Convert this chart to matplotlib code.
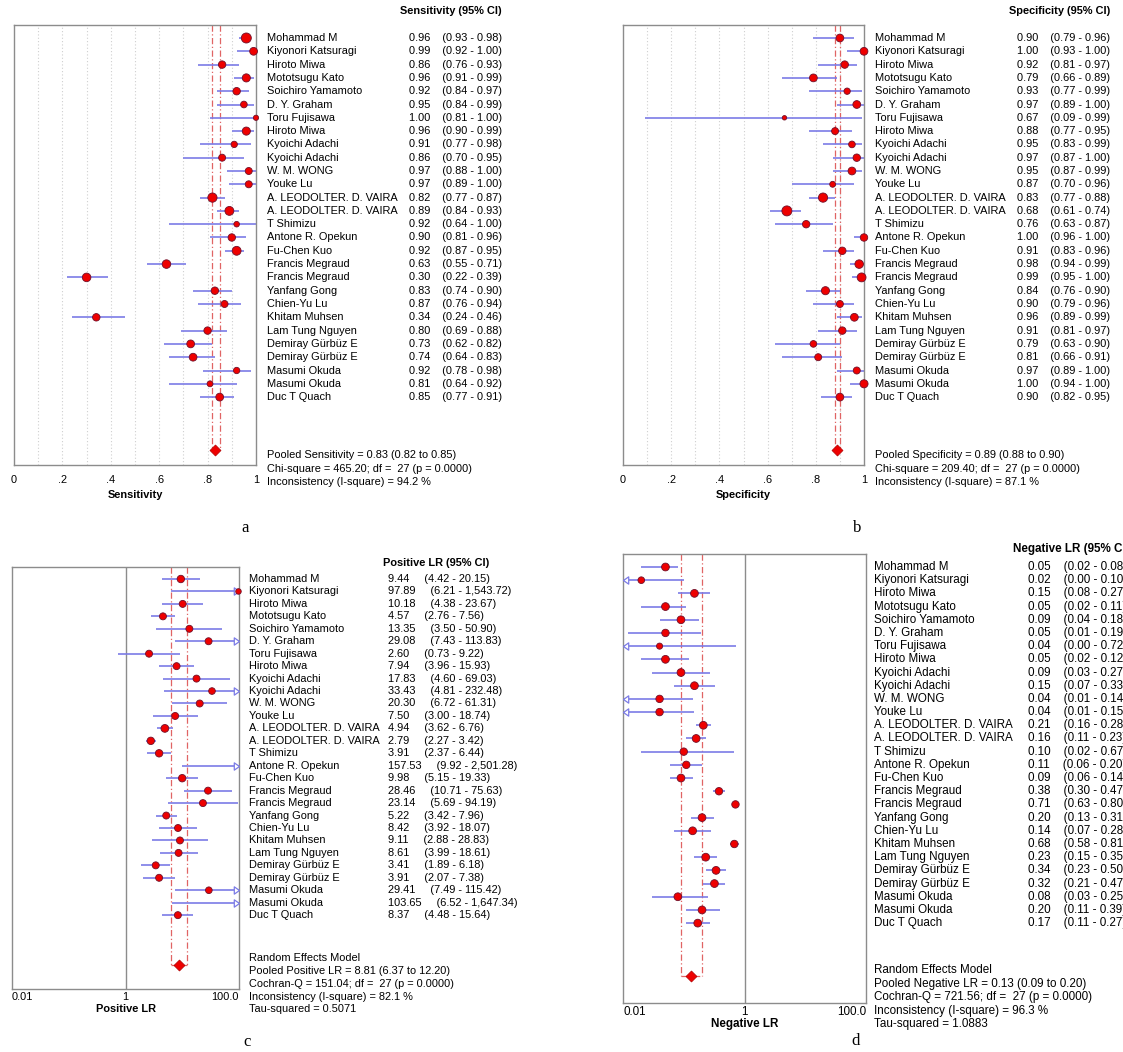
import numpy as np
import matplotlib
matplotlib.use("Agg")
import matplotlib.pyplot as plt
from matplotlib import transforms
from matplotlib.path import Path
from matplotlib.ticker import NullLocator

plt.rcParams['font.family'] = ['Liberation Sans', 'DejaVu Sans']

W, H = 1123, 1052
CI_COLOR = '#7c7ce6'
DOT_COLOR = '#ee0000'
DOT_EDGE = '#70102a'
POOL_COLOR = '#e06464'
FRAME = '#8c8c8c'

# ---- data ----
studies = ["Mohammad M", "Kiyonori Katsuragi", "Hiroto Miwa", "Mototsugu Kato",
           "Soichiro Yamamoto", "D. Y. Graham", "Toru Fujisawa", "Hiroto Miwa",
           "Kyoichi Adachi", "Kyoichi Adachi", "W. M. WONG", "Youke Lu",
           "A. LEODOLTER. D. VAIRA", "A. LEODOLTER. D. VAIRA", "T Shimizu",
           "Antone R. Opekun", "Fu-Chen Kuo", "Francis Megraud", "Francis Megraud",
           "Yanfang Gong", "Chien-Yu Lu", "Khitam Muhsen", "Lam Tung Nguyen",
           "Demiray Gürbüz E", "Demiray Gürbüz E", "Masumi Okuda", "Masumi Okuda",
           "Duc T Quach"]

sens = [0.96, 0.99, 0.86, 0.96, 0.92, 0.95, 1.00, 0.96, 0.91, 0.86, 0.97, 0.97, 0.82, 0.89,
        0.92, 0.90, 0.92, 0.63, 0.30, 0.83, 0.87, 0.34, 0.80, 0.73, 0.74, 0.92, 0.81, 0.85]
sens_lo = [0.93, 0.92, 0.76, 0.91, 0.84, 0.84, 0.81, 0.90, 0.77, 0.70, 0.88, 0.89, 0.77, 0.84,
           0.64, 0.81, 0.87, 0.55, 0.22, 0.74, 0.76, 0.24, 0.69, 0.62, 0.64, 0.78, 0.64, 0.77]
sens_hi = [0.98, 1.00, 0.93, 0.99, 0.97, 0.99, 1.00, 0.99, 0.98, 0.95, 1.00, 1.00, 0.87, 0.93,
           1.00, 0.96, 0.95, 0.71, 0.39, 0.90, 0.94, 0.46, 0.88, 0.82, 0.83, 0.98, 0.92, 0.91]
sens_size = [9, 7, 6.7, 7.3, 6.7, 6, 4.7, 7.3, 5.7, 6.3, 6.3, 6.3, 8.3, 8,
             5, 6.7, 8, 7.7, 7.7, 6.7, 6.3, 6.7, 6.7, 7, 7, 5.7, 5.3, 7]
sens_pool = (0.83, 0.82, 0.85)

spec = [0.90, 1.00, 0.92, 0.79, 0.93, 0.97, 0.67, 0.88, 0.95, 0.97, 0.95, 0.87, 0.83, 0.68,
        0.76, 1.00, 0.91, 0.98, 0.99, 0.84, 0.90, 0.96, 0.91, 0.79, 0.81, 0.97, 1.00, 0.90]
spec_lo = [0.79, 0.93, 0.81, 0.66, 0.77, 0.89, 0.09, 0.77, 0.83, 0.87, 0.87, 0.70, 0.77, 0.61,
           0.63, 0.96, 0.83, 0.94, 0.95, 0.76, 0.79, 0.89, 0.81, 0.63, 0.66, 0.89, 0.94, 0.82]
spec_hi = [0.96, 1.00, 0.97, 0.89, 0.99, 1.00, 0.99, 0.95, 0.99, 1.00, 0.99, 0.96, 0.88, 0.74,
           0.87, 1.00, 0.96, 0.99, 1.00, 0.90, 0.96, 0.99, 0.97, 0.90, 0.91, 1.00, 1.00, 0.95]
spec_size = [7, 7, 6.7, 7, 5.7, 7, 4, 6.3, 6, 6.7, 7, 5.3, 8.3, 9,
             6.7, 6.7, 6.7, 7.7, 8, 7.3, 6.3, 7, 6.7, 6, 6.3, 6.3, 7.3, 7]
spec_pool = (0.89, 0.88, 0.90)

plr = [9.44, 97.89, 10.18, 4.57, 13.35, 29.08, 2.60, 7.94, 17.83, 33.43, 20.30, 7.50, 4.94, 2.79,
       3.91, 157.53, 9.98, 28.46, 23.14, 5.22, 8.42, 9.11, 8.61, 3.41, 3.91, 29.41, 103.65, 8.37]
plr_lo = [4.42, 6.21, 4.38, 2.76, 3.50, 7.43, 0.73, 3.96, 4.60, 4.81, 6.72, 3.00, 3.62, 2.27,
          2.37, 9.92, 5.15, 10.71, 5.69, 3.42, 3.92, 2.88, 3.99, 1.89, 2.07, 7.49, 6.52, 4.48]
plr_hi = [20.15, 1543.72, 23.67, 7.56, 50.90, 113.83, 9.22, 15.93, 69.03, 232.48, 61.31, 18.74,
          6.76, 3.42, 6.44, 2501.28, 19.33, 75.63, 94.19, 7.96, 18.07, 28.83, 18.61, 6.18, 7.38,
          115.42, 1647.34, 15.64]
plr_size = [6.7, 5, 6.3, 6.3, 6.3, 6.3, 6.3, 6.3, 6.3, 6, 6.3, 6.3, 7, 6.7,
            6.7, 6.7, 6.7, 6.3, 6.3, 6.3, 6.3, 6.3, 6.3, 6.3, 6.3, 6, 6, 6.3]
plr_pool = (8.81, 6.37, 12.20)

nlr = [0.05, 0.02, 0.15, 0.05, 0.09, 0.05, 0.04, 0.05, 0.09, 0.15, 0.04, 0.04, 0.21, 0.16,
       0.10, 0.11, 0.09, 0.38, 0.71, 0.20, 0.14, 0.68, 0.23, 0.34, 0.32, 0.08, 0.20, 0.17]
nlr_lo = [0.02, 0.003, 0.08, 0.02, 0.04, 0.012, 0.002, 0.02, 0.03, 0.07, 0.006, 0.006, 0.16, 0.11,
          0.02, 0.06, 0.06, 0.30, 0.63, 0.13, 0.07, 0.58, 0.15, 0.23, 0.21, 0.03, 0.11, 0.11]
nlr_hi = [0.08, 0.10, 0.27, 0.11, 0.18, 0.19, 0.72, 0.12, 0.27, 0.33, 0.14, 0.15, 0.28, 0.23,
          0.67, 0.20, 0.14, 0.47, 0.80, 0.31, 0.28, 0.81, 0.35, 0.50, 0.47, 0.25, 0.39, 0.27]
nlr_size = [7, 6, 7, 7, 7, 6.7, 5.5, 7, 7, 7, 6.7, 6.7, 7, 7,
            6.7, 6.7, 7, 6.7, 6.7, 7, 7, 6.7, 7, 7, 7, 7, 7, 7]
nlr_pool = (0.13, 0.09, 0.20)

sens_info = ["Pooled Sensitivity = 0.83 (0.82 to 0.85)",
             "Chi-square = 465.20; df =  27 (p = 0.0000)",
             "Inconsistency (I-square) = 94.2 %"]
spec_info = ["Pooled Specificity = 0.89 (0.88 to 0.90)",
             "Chi-square = 209.40; df =  27 (p = 0.0000)",
             "Inconsistency (I-square) = 87.1 %"]
plr_info = ["Random Effects Model",
            "Pooled Positive LR = 8.81 (6.37 to 12.20)",
            "Cochran-Q = 151.04; df =  27 (p = 0.0000)",
            "Inconsistency (I-square) = 82.1 %",
            "Tau-squared = 0.5071"]
nlr_info = ["Random Effects Model",
            "Pooled Negative LR = 0.13 (0.09 to 0.20)",
            "Cochran-Q = 721.56; df =  27 (p = 0.0000)",
            "Inconsistency (I-square) = 96.3 %",
            "Tau-squared = 1.0883"]

fig = plt.figure(figsize=(W / 100, H / 100), dpi=100)

codes = [Path.MOVETO, Path.LINETO, Path.LINETO, Path.CLOSEPOLY]
ARROW_R = Path([(0, 0), (-1, 0.7), (-1, -0.7), (0, 0)], codes)
ARROW_L = Path([(0, 0), (1, 0.7), (1, -0.7), (0, 0)], codes)


def ftext(x, y, s, **kw):
    return fig.text(x / W, 1 - y / H, s, **kw)


def panel(box, row0, dy, est, lo, hi, size, pool, log, ticklabels, tick_pad,
          xlabel, xlabel_y, title, title_xy, name_x, val_x, info, info_row,
          letter, letter_xy, fs=7.9, gap=4, clip_right=None):
    x0, y0, x1, y1 = box
    ax = fig.add_axes([x0 / W, 1 - y1 / H, (x1 - x0) / W, (y1 - y0) / H])
    est, lo, hi, size = map(np.asarray, (est, lo, hi, size))
    n = len(est)
    rows = np.arange(n)
    top = -(row0 - y0) / dy
    ax.set_ylim((y1 - row0) / dy, top)

    if log:
        ax.set_xscale('log')
        xmin, xmax = 0.01, 100
        ticks = [0.01, 1, 100]
    else:
        xmin, xmax = 0, 1
        ticks = [0, 0.2, 0.4, 0.6, 0.8, 1]
    ax.set_xlim(xmin, xmax)
    ax.set_xticks(ticks)
    ax.set_xticklabels(ticklabels, fontsize=fs)
    ax.xaxis.set_minor_locator(NullLocator())
    ax.tick_params(axis='x', length=0, pad=tick_pad)
    ax.tick_params(axis='y', left=False, labelleft=False)
    if log:
        for lab, ha in zip(ax.get_xticklabels(), ['left', 'center', 'right']):
            lab.set_horizontalalignment(ha)
        ax.axvline(1, color=FRAME, lw=1.0, zorder=1)
    else:
        for v in np.arange(1, 10) / 10:
            ax.axvline(v, color='#cfcfcf', lw=0.8, ls=(0, (1, 2)), zorder=0)
    for sp in ax.spines.values():
        sp.set_color(FRAME)
        sp.set_linewidth(1.0)

    # pooled CI guide lines and diamond
    prow = n + 3
    pe, plo, phi = pool
    dash = [(0, (5, 2, 1, 2))]
    ax.vlines([plo, phi], top, prow, colors=POOL_COLOR, lw=0.9, linestyles=dash, zorder=1)
    ax.hlines(prow, plo, phi, colors=POOL_COLOR, lw=0.9, linestyles=dash, zorder=1)

    # study CIs, clipped ones get an open arrow head
    ax.hlines(rows, np.clip(lo, xmin, xmax), np.clip(hi, xmin, xmax),
              colors=CI_COLOR, lw=1.2, zorder=2)
    right = hi > xmax
    if right.any():
        ax.scatter(np.full(right.sum(), xmax), rows[right], marker=ARROW_R, s=7.5 ** 2,
                   facecolors='white', edgecolors=CI_COLOR, linewidths=0.9,
                   clip_on=False, zorder=3)
    left = lo < xmin
    if left.any():
        ax.scatter(np.full(left.sum(), xmin), rows[left], marker=ARROW_L, s=7.5 ** 2,
                   facecolors='white', edgecolors=CI_COLOR, linewidths=0.9,
                   clip_on=False, zorder=3)
    shown = (est >= xmin) & (est <= xmax)
    ax.scatter(est[shown], rows[shown], s=(size[shown] * 0.8) ** 2, c=DOT_COLOR,
               edgecolors=DOT_EDGE, linewidths=0.6, clip_on=False, zorder=4)
    ax.scatter([pe], [prow], marker='D', s=5.6 ** 2, c=DOT_COLOR, edgecolors='#b00000',
               linewidths=0.5, clip_on=False, zorder=4)

    # text columns
    trans = transforms.blended_transform_factory(ax.transAxes, ax.transData)
    fx = lambda px: (px - x0) / (x1 - x0)
    clip = None
    if clip_right is not None:
        clip = transforms.TransformedBbox(
            transforms.Bbox.from_extents(0, 0, clip_right / W, 1), fig.transFigure)
    sp = " " * gap
    for r, name, v, l, h in zip(rows, studies, est, lo, hi):
        ax.text(fx(name_x), r, name, transform=trans, fontsize=fs, va='center',
                ha='left', clip_on=False)
        t = ax.text(fx(val_x), r, f"{v:,.2f}{sp}({l:,.2f} - {h:,.2f})", transform=trans,
                    fontsize=fs, va='center', ha='left', clip_on=False)
        if clip is not None:
            t.set_clip_on(True)
            t.set_clip_box(clip)
    for k, line in enumerate(info):
        ax.text(fx(name_x), n + info_row + 1.03 * k, line, transform=trans, fontsize=fs,
                va='center', ha='left', clip_on=False)

    ftext(title_xy[0], title_xy[1], title, fontsize=fs, fontweight='bold', ha='right', va='center')
    ftext((x0 + x1) / 2, xlabel_y, xlabel, fontsize=fs, fontweight='bold', ha='center', va='center')
    ftext(letter_xy[0], letter_xy[1], letter, fontsize=12, ha='center', va='center',
          family=['Liberation Serif', 'DejaVu Serif'])
    return ax


panel((14, 25, 256, 465), 38, 13.3, sens, sens_lo, sens_hi, sens_size, sens_pool, False,
      ["0", ".2", ".4", ".6", ".8", "1"], 7, "Sensitivity", 495,
      "Sensitivity (95% CI)", (502, 11), 267, 409, sens_info, 3.35, "a", (245, 528))

panel((623, 25, 864, 465), 38, 13.3, spec, spec_lo, spec_hi, spec_size, spec_pool, False,
      ["0", ".2", ".4", ".6", ".8", "1"], 7, "Specificity", 495,
      "Specificity (95% CI)", (1110, 11), 875, 1017, spec_info, 3.35, "b", (857, 528))

panel((12, 567, 239, 989), 579, 12.45, plr, plr_lo, plr_hi, plr_size, plr_pool, True,
      ["0.01", "1", "100.0"], 2.5, "Positive LR", 1009,
      "Positive LR (95% CI)", (489, 563), 249, 388, plr_info, 2.45, "c", (247, 1042),
      gap=5, clip_right=519.5)

panel((623, 554, 866, 1003), 567, 13.19, nlr, nlr_lo, nlr_hi, nlr_size, nlr_pool, True,
      ["0.01", "1", "100.0"], 2.5, "Negative LR", 1024,
      "Negative LR (95% CI)", (1130, 549), 874, 1028, nlr_info, 2.55, "d", (856, 1041),
      fs=8.4)

fig.savefig("out.png", dpi=100)
